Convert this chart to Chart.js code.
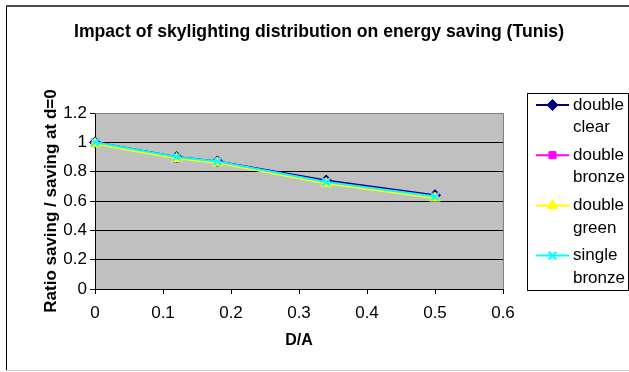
<!DOCTYPE html>
<html>
<head>
<meta charset="utf-8">
<script src="https://cdn.jsdelivr.net/npm/chart.js@4/dist/chart.umd.min.js"></script>
<style>
  html, body { margin: 0; padding: 0; background: #ffffff; }
  #chart { display: block; }
</style>
</head>
<body>
<canvas id="chart" width="629" height="372"></canvas>
<script>
// Skylight spacing ratio D/A
const ratioDA = [0, 0.12, 0.18, 0.34, 0.5];

// Saving ratio relative to d=0, one list per glazing type
const doubleClear  = [1.00, 0.90, 0.87, 0.74, 0.64];
const doubleBronze = [1.00, 0.89, 0.87, 0.73, 0.63];
const doubleGreen  = [0.99, 0.89, 0.86, 0.72, 0.62];
const singleBronze = [1.00, 0.90, 0.87, 0.73, 0.63];

const seriesNames = ['double clear', 'double bronze', 'double green', 'single bronze'];

const xTickLabels = ['0', '0.1', '0.2', '0.3', '0.4', '0.5', '0.6'];
const yTickLabels = ['0', '0.2', '0.4', '0.6', '0.8', '1', '1.2'];

const chartTitle = 'Impact of skylighting distribution on energy saving (Tunis)';
const xTitle = 'D/A';
const yTitle = 'Ratio saving / saving at d=0';

const FONT = "'Liberation Sans', Arial, Helvetica, sans-serif";

function points(ys) {
  return ratioDA.map((x, i) => ({ x: x, y: ys[i] }));
}

function series(label, ys, color, style, order, radius) {
  return {
    label: label,
    data: points(ys),
    showLine: true,
    borderColor: color,
    backgroundColor: color,
    borderWidth: 2,
    pointStyle: style,
    pointRadius: radius,
    pointBorderWidth: style === 'crossRot' ? 2 : 1,
    pointBorderColor: color,
    pointBackgroundColor: color,
    order: order,
    clip: false
  };
}

// Draws text squeezed horizontally into a given width
function fillFitted(ctx, text, cx, cy, width) {
  const w = ctx.measureText(text).width;
  const k = Math.min(1, width / w);
  ctx.save();
  ctx.translate(cx, cy);
  ctx.scale(k, 1);
  ctx.fillText(text, 0, 0);
  ctx.restore();
}

// Grey plot background, framed the way a spreadsheet chart draws it
const plotBackground = {
  id: 'plotBackground',
  beforeDraw(chart) {
    const { ctx, chartArea: a } = chart;
    ctx.save();
    ctx.fillStyle = '#ffffff';
    ctx.fillRect(0, 0, chart.width, chart.height);
    ctx.fillStyle = '#c0c0c0';
    ctx.fillRect(a.left, a.top, a.right - a.left, a.bottom - a.top);

    // outer chart frame
    ctx.strokeStyle = '#000000';
    ctx.lineWidth = 1;
    ctx.beginPath();
    ctx.moveTo(6.5, 6);
    ctx.lineTo(6.5, 370);
    ctx.stroke();
    ctx.strokeStyle = '#4a4a4a';
    ctx.lineWidth = 2;
    ctx.beginPath();
    ctx.moveTo(6, 6);
    ctx.lineTo(629, 6);
    ctx.stroke();
    ctx.strokeStyle = '#c8c8c8';
    ctx.lineWidth = 1;
    ctx.beginPath();
    ctx.moveTo(6, 370.5);
    ctx.lineTo(629, 370.5);
    ctx.stroke();

    // chart title
    ctx.fillStyle = '#000000';
    ctx.font = 'bold 19px ' + FONT;
    ctx.textAlign = 'center';
    ctx.textBaseline = 'middle';
    fillFitted(ctx, chartTitle, 319, 32, 490);
    ctx.restore();
  },
  beforeDatasetsDraw(chart) {
    const { ctx, chartArea: a } = chart;
    ctx.save();
    ctx.strokeStyle = '#808080';
    ctx.lineWidth = 1;
    ctx.beginPath();
    ctx.moveTo(Math.round(a.left), Math.round(a.top) + 0.5);
    ctx.lineTo(Math.round(a.right) + 0.5, Math.round(a.top) + 0.5);
    ctx.lineTo(Math.round(a.right) + 0.5, Math.round(a.bottom));
    ctx.stroke();
    ctx.restore();
  }
};

// Legend box on the right, one two-line entry per series
const sideLegend = {
  id: 'sideLegend',
  afterDraw(chart) {
    const { ctx } = chart;
    const box = { left: 527.5, top: 93.5, right: 628.5, bottom: 290.5 };
    ctx.save();
    ctx.fillStyle = '#ffffff';
    ctx.fillRect(box.left, box.top, box.right - box.left, box.bottom - box.top);
    ctx.strokeStyle = '#000000';
    ctx.lineWidth = 1;
    ctx.strokeRect(box.left, box.top, box.right - box.left, box.bottom - box.top);

    const rowTop = 105;
    const rowStep = 50.2;
    const lineGap = 22.5;
    chart.data.datasets.forEach((ds, i) => {
      const y = rowTop + i * rowStep;
      ctx.strokeStyle = ds.borderColor;
      ctx.lineWidth = 2;
      ctx.beginPath();
      ctx.moveTo(536, y);
      ctx.lineTo(569, y);
      ctx.stroke();
      if (Chart.helpers && Chart.helpers.drawPoint) {
        ctx.fillStyle = ds.pointBackgroundColor;
        ctx.strokeStyle = ds.pointBorderColor;
        ctx.lineWidth = ds.pointBorderWidth;
        Chart.helpers.drawPoint(ctx, {
          pointStyle: ds.pointStyle,
          radius: ds.pointRadius,
          borderWidth: ds.pointBorderWidth,
          rotation: 0
        }, 552.5, y);
      }
      ctx.fillStyle = '#000000';
      ctx.font = '17px ' + FONT;
      ctx.textAlign = 'left';
      ctx.textBaseline = 'middle';
      const words = ds.label.split(' ');
      ctx.fillText(words[0], 573, y);
      ctx.fillText(words.slice(1).join(' '), 573, y + lineGap);
    });
    ctx.restore();
  }
};

new Chart(document.getElementById('chart'), {
  type: 'scatter',
  data: {
    datasets: [
      series(seriesNames[0], doubleClear,  '#000080', 'rectRot', 3, 5.5),
      series(seriesNames[1], doubleBronze, '#ff00ff', 'rect', 2, 5),
      series(seriesNames[2], doubleGreen,  '#ffff00', 'triangle', 1, 6),
      series(seriesNames[3], singleBronze, '#00ffff', 'crossRot', 0, 5.5)
    ]
  },
  options: {
    responsive: false,
    devicePixelRatio: 1,
    animation: false,
    layout: { padding: { left: 6, right: 126, top: 113, bottom: 0 } },
    plugins: {
      legend: { display: false },
      title: { display: false },
      tooltip: { enabled: false }
    },
    scales: {
      x: {
        type: 'linear',
        min: 0,
        max: 0.6,
        afterFit(scale) { scale.height = 83; },
        afterBuildTicks(scale) {
          scale.ticks = xTickLabels.map(t => ({ value: parseFloat(t) }));
        },
        ticks: {
          color: '#000000',
          font: { family: FONT, size: 17 },
          padding: 9,
          maxRotation: 0,
          autoSkip: false,
          callback: (v, i) => xTickLabels[i]
        },
        grid: { drawOnChartArea: false, color: '#000000', tickLength: 5 },
        border: { color: '#000000', width: 1 },
        title: {
          display: true,
          text: xTitle,
          color: '#000000',
          font: { family: FONT, size: 16, weight: 'bold' },
          padding: { top: 0, bottom: 22 }
        }
      },
      y: {
        type: 'linear',
        min: 0,
        max: 1.2,
        afterFit(scale) { scale.width = 89; },
        afterBuildTicks(scale) {
          scale.ticks = yTickLabels.map(t => ({ value: parseFloat(t) }));
        },
        ticks: {
          color: '#000000',
          font: { family: FONT, size: 17 },
          padding: 3,
          autoSkip: false,
          callback: (v, i) => yTickLabels[i]
        },
        grid: { color: '#000000', tickLength: 5 },
        border: { color: '#000000', width: 1 },
        title: {
          display: true,
          text: yTitle,
          color: '#000000',
          font: { family: FONT, size: 17, weight: 'bold' },
          padding: { top: 35, bottom: 0 }
        }
      }
    }
  },
  plugins: [plotBackground, sideLegend]
});
</script>
</body>
</html>
